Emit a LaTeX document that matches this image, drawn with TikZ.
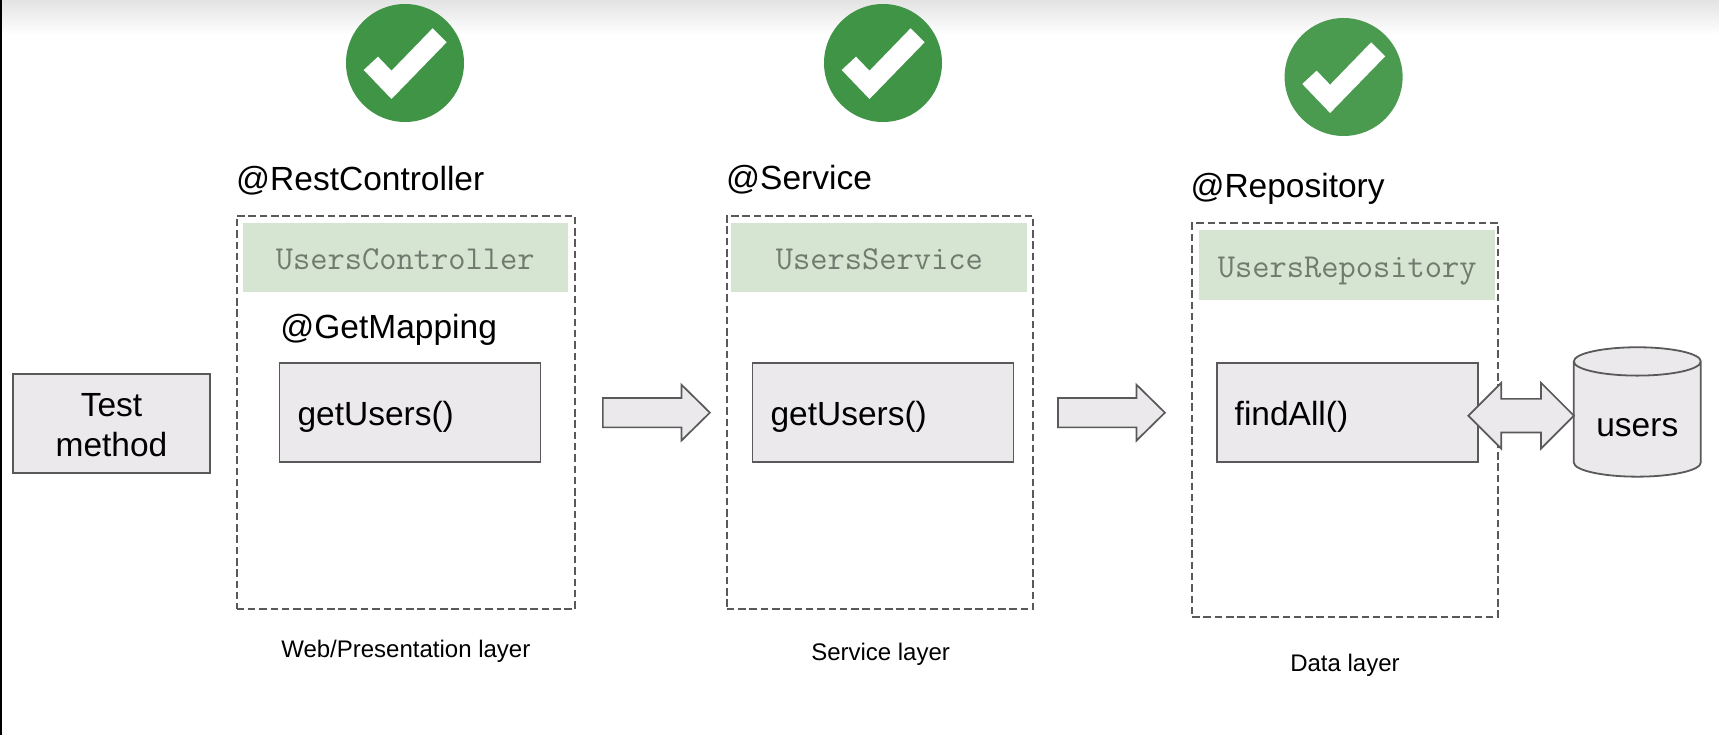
\documentclass[tikz,border=0pt]{standalone}
\usepackage{fontspec}
\setmainfont{Liberation Sans}
\usetikzlibrary{shapes.geometric,shapes.arrows}
\definecolor{boxgray}{HTML}{EBE9EC}
\definecolor{linegray}{HTML}{595959}
\definecolor{headgreen}{HTML}{D5E5D1}
\definecolor{monogray}{HTML}{707A6E}
\definecolor{checkgreen}{HTML}{3F9545}
\definecolor{checkpale}{HTML}{4A9B50}

\begin{document}
\begin{tikzpicture}[x=1pt, y=-1pt]
\tikzstyle{bigtext} = [font=\fontsize{33.5}{40}\selectfont, inner sep=0]
\tikzstyle{title} = [bigtext, anchor=base west]
\tikzstyle{layerlabel} = [font=\fontsize{24}{28}\selectfont, inner sep=0, anchor=base]
\tikzstyle{layerbox} = [draw=linegray, line width=1.8pt, dash pattern=on 7.5pt off 3.8pt]
\tikzstyle{headbox} = [fill=headgreen, minimum height=69.5pt, inner sep=0, text=monogray,
  font=\ttfamily\fontsize{33.5}{36}\selectfont, text height=25pt, text depth=0pt]
\tikzstyle{methodbox} = [bigtext, draw=linegray, fill=boxgray, line width=1.8pt,
  minimum height=98.7pt, inner xsep=18pt, text width=225pt, align=left,
  text height=26.5pt, text depth=0pt]
\tikzstyle{flowarrow} = [single arrow, draw=linegray, fill=boxgray, line width=1.7pt, inner xsep=0,
  inner ysep=13.85pt, minimum height=107pt, single arrow head extend=13.2pt, single arrow tip angle=89]
\tikzstyle{bothways} = [double arrow, draw=linegray, fill=boxgray, line width=1.7pt, inner xsep=0,
  inner ysep=16pt, minimum height=105.6pt, double arrow head extend=16pt, double arrow tip angle=90]
\useasboundingbox (0,0) rectangle (1719,735);
\fill[white] (0,0) rectangle (1719,735);
\shade[top color=black!11, bottom color=white] (0,0) rectangle (1719,35);
\fill[black] (0,0) rectangle (2,735);

% check marks
\foreach \name/\cx/\cy/\tone in {checkA/405/63/checkgreen, checkB/883/63/checkgreen, checkC/1343.6/77/checkpale} {
  \node[circle, fill=\tone, minimum size=118pt, inner sep=0] (\name) at (\cx,\cy) {};
  \fill[white, shift={(\name.center)}] (27.6,-34.7) -- (41.6,-20.7) -- (-13.5,36) -- (-41.3,7) -- (-27,-6.3) -- (-13.5,7.7) -- cycle;
}

% layers
\node[title] (restTitle) at (236,190.5) {@RestController};
\node[title] (serviceTitle) at (726,189.5) {@Service};
\node[title] (repoTitle) at (1190.3,197.2) {@Repository};
\node[layerbox, minimum width=338.3pt, minimum height=393.6pt] (layerA) at (405.8,412.5) {};
\node[layerbox, minimum width=306.3pt, minimum height=393.6pt] (layerB) at (880,412.5) {};
\node[layerbox, minimum width=306.2pt, minimum height=393.7pt] (layerC) at (1345.2,419.85) {};
\node[headbox, minimum width=325.2pt] (headA) at (405.2,257.4) {UsersController};
\node[headbox, minimum width=296pt] (headB) at (879.4,257.3) {UsersService};
\node[headbox, minimum width=296.4pt] (headC) at (1347.2,265.15) {UsersRepository};
\node[title] (getMapping) at (280.2,338) {@GetMapping};

% methods
\node[methodbox] (getA) at (410,412.65) {getUsers()};
\node[methodbox] (getB) at (883,412.65) {getUsers()};
\node[methodbox] (findC) at (1347.2,412.65) {findAll()};
\node[bigtext, draw=linegray, fill=boxgray, line width=1.8pt, minimum width=197pt, minimum height=98.4pt, align=center] (test) at (111.5,423.5) {\raisebox{-12.5pt}[0pt][0pt]{Test}\\\raisebox{-12.5pt}[0pt][0pt]{method}};
\node[bigtext, cylinder, shape border rotate=90, aspect=.346, draw=linegray, line width=1.8pt,
  cylinder uses custom fill, cylinder body fill=boxgray, cylinder end fill=boxgray,
  minimum width=127pt, minimum height=129.4pt] (users) at (1637.3,419.5) {\raisebox{-17pt}[0pt][0pt]{users}};

\path (getA.east) -- node[flowarrow, pos=.5114] (flowA) {} (getB.west);
\path (getB.east) -- node[flowarrow, pos=.4445] (flowB) {} (findC.west);
\path (findC.east) -- node[bothways, pos=.451] (flowC) {} (users.west);

\node[layerlabel] (webLabel) at (405.8,657.7) {Web/Presentation layer};
\node[layerlabel] (serviceLabel) at (880.6,660.5) {Service layer};
\node[layerlabel] (dataLabel) at (1345,671.5) {Data layer};
\end{tikzpicture}
\end{document}
